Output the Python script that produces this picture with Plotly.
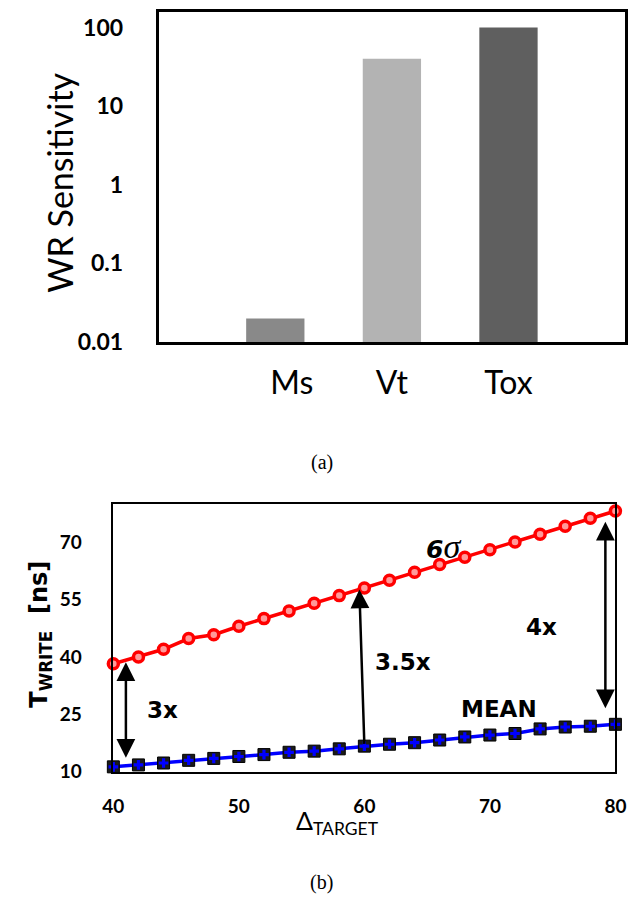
import plotly.graph_objects as go

# ---- panel (a): write-reliability sensitivity per parameter ----
params = ["\u00a0\u00a0\u00a0\u00a0Ms", "Vt", "Tox"]
param_pos = [1, 2, 3]
wr_sensitivity = [0.02, 40, 100]
bar_colors = ["#898989", "#b3b3b3", "#5f5f5f"]
sens_ticks = [0.01, 0.1, 1, 10, 100]
sens_ticktext = ["0.01", "0.1", "1", "10", "100"]

# ---- panel (b): write time vs. thermal stability target ----
delta_target = [40, 42, 44, 46, 48, 50, 52, 54, 56, 58, 60,
                62, 64, 66, 68, 70, 72, 74, 76, 78, 80]
twrite_6sigma = [38.2, 40.0, 42.0, 44.8, 45.8, 48.0, 50.0, 52.0, 54.0, 56.0, 58.0,
                 60.0, 62.1, 64.1, 66.0, 68.0, 70.0, 72.0, 74.1, 76.2, 78.1]
twrite_mean = [11.3, 11.8, 12.3, 13.0, 13.5, 14.0, 14.5, 15.1, 15.4, 16.0, 16.7,
               17.2, 17.6, 18.3, 19.1, 19.6, 20.0, 21.2, 21.7, 21.9, 22.4]
delta_ticks = [40, 50, 60, 70, 80]
twrite_ticks = [10, 25, 40, 55, 70]

# ratio arrows: (x_bottom, y_bottom, x_top, y_top, heads at both ends?)
ratio_arrows = [
    (41.0, 13.3, 41.0, 38.6, True),
    (60.0, 16.9, 59.6, 57.6, False),
    (79.2, 26.2, 79.2, 75.3, True),
]
ratio_labels = [("3x", 43.9, 26.2), ("3.5x", 63.1, 38.7), ("4x", 74.1, 47.7)]

W, H = 638, 910

fig = go.Figure()

fig.add_trace(go.Bar(
    x=param_pos, y=wr_sensitivity, width=0.5,
    marker=dict(color=bar_colors, line=dict(width=0)),
    xaxis="x", yaxis="y", showlegend=False,
))

fig.add_trace(go.Scatter(
    x=delta_target, y=twrite_6sigma, mode="lines+markers",
    line=dict(color="#ff0000", width=3.5),
    marker=dict(symbol="circle", size=10, color="#ff9a9a",
                line=dict(color="#ff0000", width=3.5)),
    xaxis="x2", yaxis="y2", showlegend=False, cliponaxis=False,
))
fig.add_trace(go.Scatter(
    x=delta_target, y=twrite_mean, mode="lines+markers",
    line=dict(color="#0000ff", width=3.5),
    marker=dict(symbol="square", size=12, color="#1a1a1a",
                line=dict(color="#000000", width=1)),
    xaxis="x2", yaxis="y2", showlegend=False, cliponaxis=False,
))
fig.add_trace(go.Scatter(
    x=delta_target, y=twrite_mean, mode="markers",
    marker=dict(symbol="cross", size=8, color="#0000ff", line=dict(width=0)),
    xaxis="x2", yaxis="y2", showlegend=False, cliponaxis=False,
))

tick_font_a = dict(family="Lato", size=23, color="black", weight="bold")
tick_font_b = dict(family="Lato", size=19, color="black", weight="bold")

fig.update_layout(
    width=W, height=H,
    margin=dict(l=0, r=0, t=0, b=0),
    paper_bgcolor="white", plot_bgcolor="white",
    xaxis=dict(
        domain=[153 / W, 636 / W], range=[0, 4],
        tickvals=param_pos, ticktext=params,
        tickfont=dict(family="Lato", size=32, color="black"),
        ticks="", ticklabelstandoff=11,
        showline=True, linecolor="black", linewidth=3, mirror=True,
        showgrid=False, zeroline=False, anchor="y",
    ),
    yaxis=dict(
        domain=[1 - 347 / H, 1 - 12 / H], type="log", range=[-2, 2.2],
        tickvals=sens_ticks, ticktext=sens_ticktext,
        tickfont=tick_font_a, ticks="", ticklabelstandoff=28,
        showline=True, linecolor="black", linewidth=3, mirror=True,
        showgrid=False, zeroline=False, anchor="x",
    ),
    xaxis2=dict(
        domain=[106 / W, 626 / W], range=[40, 80],
        tickvals=delta_ticks, tickfont=tick_font_b,
        ticks="", ticklabelstandoff=17,
        showline=True, linecolor="black", linewidth=1.5, mirror=True,
        showgrid=False, zeroline=False, anchor="y2",
    ),
    yaxis2=dict(
        domain=[1 - 783 / H, 1 - 511 / H], range=[10, 80],
        tickvals=twrite_ticks, tickfont=tick_font_b,
        ticks="", ticklabelstandoff=26,
        showline=True, linecolor="black", linewidth=1.5, mirror=True,
        showgrid=False, zeroline=False, anchor="x2",
    ),
)

ann = []
# axis titles and captions
ann.append(dict(text="WR Sensitivity", xref="paper", yref="paper",
                x=50 / W, y=1 - 185 / H, textangle=-90, showarrow=False,
                font=dict(family="Lato", size=34, color="black"),
                xanchor="center", yanchor="middle"))
ann.append(dict(text="(a)", xref="paper", yref="paper",
                x=322 / W, y=1 - 469 / H, showarrow=False,
                xanchor="center", yanchor="middle",
                font=dict(family="Liberation Serif", size=20, color="black")))
ann.append(dict(text="(b)", xref="paper", yref="paper",
                x=322 / W, y=1 - 895 / H, showarrow=False,
                xanchor="center", yanchor="middle",
                font=dict(family="Liberation Serif", size=20, color="black")))
ann.append(dict(text="T<sub>WRITE</sub>  [ns]",
                xref="paper", yref="paper",
                x=31 / W, y=1 - 643 / H, textangle=-90, showarrow=False,
                font=dict(family="DejaVu Sans", size=24, color="black", weight="bold"),
                xanchor="center", yanchor="middle"))
ann.append(dict(text="Δ<sub>TARGET</sub>",
                xref="paper", yref="paper",
                x=338 / W, y=1 - 815 / H, showarrow=False,
                xanchor="center", yanchor="top",
                font=dict(family="Lato", size=25, color="black")))

# ratio arrows between the 6-sigma and mean curves
for xb, yb, xt, yt, both in ratio_arrows:
    ann.append(dict(x=xt, y=yt, ax=xb, ay=yb, text="",
                    xref="x2", yref="y2", axref="x2", ayref="y2",
                    showarrow=True, arrowcolor="black", arrowwidth=2.5,
                    arrowsize=1.5, arrowhead=2,
                    arrowside="end+start" if both else "end"))

lab_font = dict(family="DejaVu Sans", size=23, color="black", weight="bold")
for txt, xv, yv in ratio_labels + [("MEAN", 70.7, 26.4)]:
    ann.append(dict(text=txt, xref="x2", yref="y2", x=xv, y=yv,
                    xanchor="center", yanchor="middle",
                    showarrow=False, font=lab_font))
ann.append(dict(text="<b><i>6</i></b><span style=\"font-family:'Liberation Serif';font-size:34px\"><i>σ</i></span>",
                xref="x2", yref="y2", x=66.3, y=68.7, showarrow=False,
                xanchor="center", yanchor="middle",
                font=dict(family="DejaVu Sans", size=25, color="black")))

fig.update_layout(annotations=ann)

fig.write_html("out.html")
